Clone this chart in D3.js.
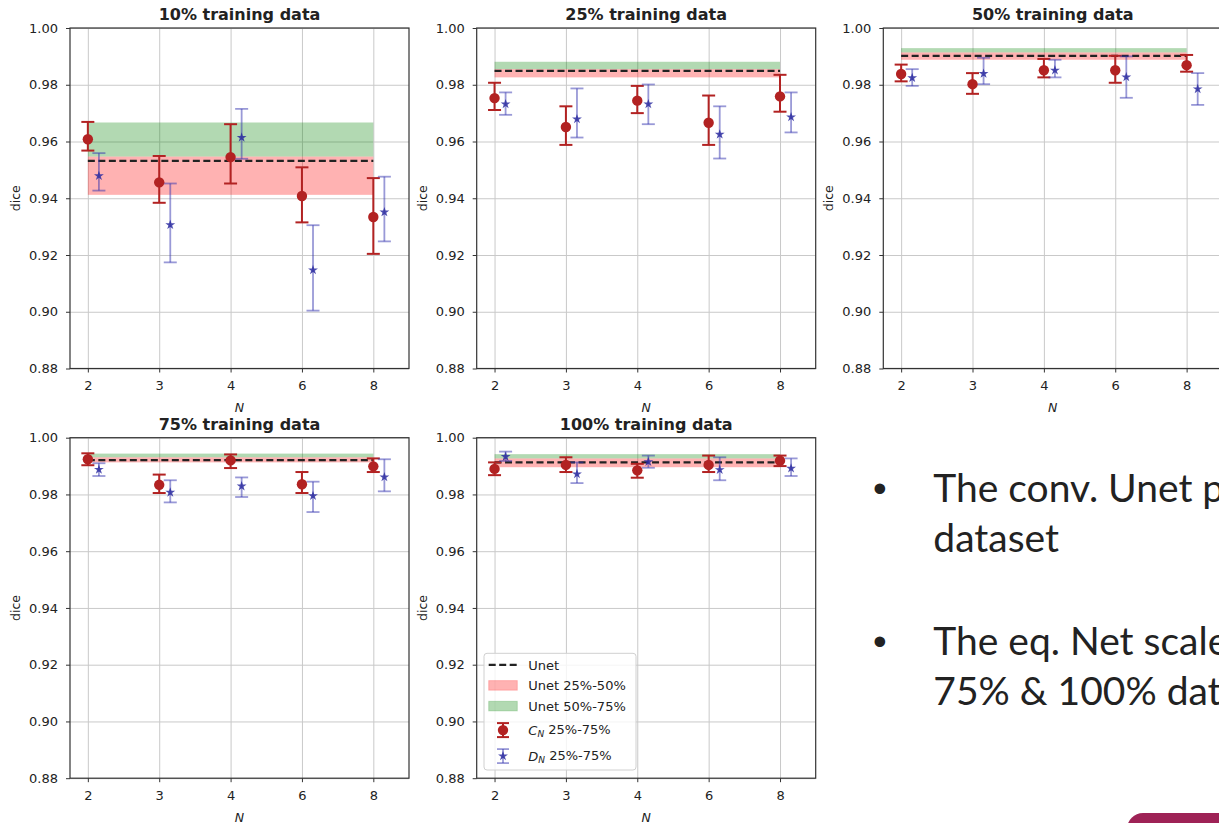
<!DOCTYPE html>
<html>
<head>
<meta charset="utf-8">
<script src="https://cdn.jsdelivr.net/npm/d3@7"></script>
<style>
  body { margin: 0; background: #fff; overflow: hidden; }
  svg text { font-family: "DejaVu Sans", sans-serif; fill: #222; }
</style>
</head>
<body>
<script>
// x categories and panel titles
var Ns = ["2", "3", "4", "6", "8"];
var titles = ["10% training data", "25% training data", "50% training data",
              "75% training data", "100% training data"];
var yTicks = [0.88, 0.90, 0.92, 0.94, 0.96, 0.98, 1.00];

// Unet reference (one value per panel)
var unetLine = [0.9532, 0.9849, 0.9902, 0.9921, 0.9913];
var unetQ25  = [0.9412, 0.9826, 0.9888, 0.9913, 0.9896];
var unetQ50  = [0.9547, 0.9855, 0.9914, 0.9931, 0.9927];
var unetQ75  = [0.9667, 0.9881, 0.9929, 0.9944, 0.9942];

// C_N : median, 25%, 75% (rows = panels, cols = N)
var cMed = [[0.9608, 0.9456, 0.9545, 0.9408, 0.9334],
            [0.9753, 0.9651, 0.9744, 0.9666, 0.9759],
            [0.9838, 0.9802, 0.9851, 0.9851, 0.9869],
            [0.9924, 0.9834, 0.9920, 0.9836, 0.9899],
            [0.9890, 0.9904, 0.9885, 0.9904, 0.9919]];
var cLo  = [[0.9568, 0.9384, 0.9452, 0.9315, 0.9204],
            [0.9711, 0.9588, 0.9700, 0.9588, 0.9705],
            [0.9812, 0.9768, 0.9826, 0.9807, 0.9846],
            [0.9903, 0.9805, 0.9893, 0.9805, 0.9879],
            [0.9868, 0.9879, 0.9859, 0.9879, 0.9900]];
var cHi  = [[0.9669, 0.9549, 0.9661, 0.9509, 0.9471],
            [0.9807, 0.9724, 0.9796, 0.9762, 0.9835],
            [0.9871, 0.9841, 0.9891, 0.9902, 0.9905],
            [0.9945, 0.9870, 0.9941, 0.9879, 0.9927],
            [0.9913, 0.9931, 0.9908, 0.9937, 0.9937]];

// D_N : median, 25%, 75%
var dMed = [[0.9479, 0.9306, 0.9614, 0.9147, 0.9351],
            [0.9732, 0.9679, 0.9732, 0.9625, 0.9686],
            [0.9824, 0.9839, 0.9851, 0.9827, 0.9785],
            [0.9888, 0.9807, 0.9829, 0.9795, 0.9861],
            [0.9933, 0.9872, 0.9915, 0.9887, 0.9892]];
var dLo  = [[0.9427, 0.9174, 0.9539, 0.9004, 0.9248],
            [0.9694, 0.9614, 0.9661, 0.9540, 0.9632],
            [0.9796, 0.9802, 0.9826, 0.9754, 0.9729],
            [0.9865, 0.9772, 0.9791, 0.9738, 0.9811],
            [0.9918, 0.9840, 0.9894, 0.9850, 0.9865]];
var dHi  = [[0.9559, 0.9452, 0.9715, 0.9305, 0.9476],
            [0.9773, 0.9787, 0.9801, 0.9724, 0.9773],
            [0.9855, 0.9895, 0.9888, 0.9900, 0.9841],
            [0.9910, 0.9850, 0.9860, 0.9845, 0.9924],
            [0.9951, 0.9913, 0.9937, 0.9931, 0.9927]];

var bullets = [["The conv. Unet p", "dataset"], ["The eq. Net scale", "75% & 100% data"]];

var svgWidth = 1219;
var svgHeight = 823;

var red = "#b22222";
var blue = "#3333b0";
var dOffset = 0.155;   // D_N drawn a bit right of each N
var cap = 6.5;

var svg = d3.select("body")
  .append("svg")
  .attr("width", svgWidth)
  .attr("height", svgHeight);

var width = 339;
var height = 340.5;
var panelLeft = [70, 476.7, 883.3];
var panelTop = [28, 437.7];

titles.forEach(function(title, p) {
  var col = p % 3, row = Math.floor(p / 3);
  var g = svg.append("g")
    .attr("transform", `translate(${panelLeft[col]}, ${panelTop[row]})`);

  var x = d3.scaleLinear().domain([-0.25, 4.5]).range([0, width]);
  var y = d3.scaleLinear().domain([0.88, 1.0]).range([height, 0]);

  // grid
  g.append("g")
    .attr("transform", `translate(0, ${height})`)
    .call(d3.axisBottom(x).tickValues(d3.range(Ns.length)).tickSize(-height).tickFormat(""))
    .call(s => s.select(".domain").remove())
    .selectAll("line").attr("stroke", "#c9c9c9").attr("stroke-width", 1);
  g.append("g")
    .call(d3.axisLeft(y).tickValues(yTicks).tickSize(-width).tickFormat(""))
    .call(s => s.select(".domain").remove())
    .selectAll("line").attr("stroke", "#c9c9c9").attr("stroke-width", 1);

  // Unet bands
  g.append("rect")
    .attr("x", x(0)).attr("width", x(4) - x(0))
    .attr("y", y(unetQ50[p])).attr("height", y(unetQ25[p]) - y(unetQ50[p]))
    .attr("fill", "#ff0000").attr("fill-opacity", 0.3);
  g.append("rect")
    .attr("x", x(0)).attr("width", x(4) - x(0))
    .attr("y", y(unetQ75[p])).attr("height", y(unetQ50[p]) - y(unetQ75[p]))
    .attr("fill", "#008000").attr("fill-opacity", 0.3);
  g.append("line")
    .attr("x1", x(0)).attr("x2", x(4))
    .attr("y1", y(unetLine[p])).attr("y2", y(unetLine[p]))
    .attr("stroke", "#222").attr("stroke-width", 2.2)
    .attr("stroke-dasharray", "7,3.5");

  // error bars
  function errorbars(lo, hi, off, color, opacity, sw) {
    var eb = g.append("g").attr("stroke", color).attr("stroke-opacity", opacity)
      .attr("stroke-width", sw);
    Ns.forEach(function(n, i) {
      var cx = x(i + off);
      eb.append("line").attr("x1", cx).attr("x2", cx).attr("y1", y(lo[p][i])).attr("y2", y(hi[p][i]));
      eb.append("line").attr("x1", cx - cap).attr("x2", cx + cap).attr("y1", y(lo[p][i])).attr("y2", y(lo[p][i]));
      eb.append("line").attr("x1", cx - cap).attr("x2", cx + cap).attr("y1", y(hi[p][i])).attr("y2", y(hi[p][i]));
    });
  }
  errorbars(cLo, cHi, 0, red, 1, 2);
  errorbars(dLo, dHi, dOffset, blue, 0.5, 1.8);

  g.selectAll("circle.c")
    .data(cMed[p])
    .enter()
    .append("circle")
    .attr("cx", (d, i) => x(i))
    .attr("cy", d => y(d))
    .attr("r", 5.2)
    .attr("fill", red);

  var star = d3.symbol().type(d3.symbolStar).size(30);
  g.selectAll("path.d")
    .data(dMed[p])
    .enter()
    .append("path")
    .attr("d", star)
    .attr("transform", (d, i) => `translate(${x(i + dOffset)}, ${y(d)})`)
    .attr("fill", "#2b2ba0")
    .attr("fill-opacity", 0.85);

  // axes
  var xAxis = g.append("g")
    .attr("transform", `translate(0, ${height})`)
    .call(d3.axisBottom(x).tickValues(d3.range(Ns.length)).tickFormat(i => Ns[i])
      .tickSize(4).tickPadding(8.5));
  var yAxis = g.append("g")
    .call(d3.axisLeft(y).tickValues(yTicks).tickFormat(d3.format(".2f"))
      .tickSize(4).tickPadding(8));
  [xAxis, yAxis].forEach(function(a) {
    a.select(".domain").remove();
    a.selectAll("line").attr("stroke", "#333");
    a.selectAll("text").attr("font-size", 13).attr("font-family", "DejaVu Sans").attr("fill", "#222");
  });

  // frame
  g.append("rect")
    .attr("width", width).attr("height", height)
    .attr("fill", "none").attr("stroke", "#333").attr("stroke-width", 1.2);

  // labels
  g.append("text")
    .attr("x", width / 2).attr("y", -8)
    .attr("text-anchor", "middle")
    .attr("font-size", 16).attr("font-weight", "bold")
    .attr("fill", "#111")
    .text(title);
  g.append("text")
    .attr("x", width / 2).attr("y", height + 43.5)
    .attr("text-anchor", "middle")
    .attr("font-size", 12.5).attr("font-style", "italic")
    .text("N");
  g.append("text")
    .attr("transform", "rotate(-90)")
    .attr("x", -height / 2).attr("y", -50)
    .attr("text-anchor", "middle")
    .attr("font-size", 12.5)
    .text("dice");

  // legend in the last panel
  if (p === 4) {
    var lg = g.append("g").attr("transform", "translate(7.3, 215.6)");
    lg.append("rect")
      .attr("width", 152).attr("height", 116.7).attr("rx", 3)
      .attr("fill", "#fff").attr("fill-opacity", 0.8)
      .attr("stroke", "#d0d0d0");
    var rows = [11.6, 32.1, 52.8, 76.8, 102.8];
    lg.append("line").attr("x1", 4.7).attr("x2", 33.3).attr("y1", rows[0]).attr("y2", rows[0])
      .attr("stroke", "#222").attr("stroke-width", 2.2).attr("stroke-dasharray", "7,3.5");
    lg.append("rect").attr("x", 4.7).attr("y", rows[1] - 4.8).attr("width", 28.6).attr("height", 9.6)
      .attr("fill", "#ff0000").attr("fill-opacity", 0.3).attr("stroke", "#ff0000").attr("stroke-opacity", 0.2);
    lg.append("rect").attr("x", 4.7).attr("y", rows[2] - 4.8).attr("width", 28.6).attr("height", 9.6)
      .attr("fill", "#008000").attr("fill-opacity", 0.3).attr("stroke", "#008000").attr("stroke-opacity", 0.2);
    [[rows[3], red, 1, 2], [rows[4], blue, 0.5, 1.8]].forEach(function(r) {
      var e = lg.append("g").attr("stroke", r[1]).attr("stroke-opacity", r[2]).attr("stroke-width", r[3]);
      e.append("line").attr("x1", 19).attr("x2", 19).attr("y1", r[0] - 7).attr("y2", r[0] + 7);
      e.append("line").attr("x1", 13).attr("x2", 25).attr("y1", r[0] - 7).attr("y2", r[0] - 7);
      e.append("line").attr("x1", 13).attr("x2", 25).attr("y1", r[0] + 7).attr("y2", r[0] + 7);
    });
    lg.append("circle").attr("cx", 19).attr("cy", rows[3]).attr("r", 5.2).attr("fill", red);
    lg.append("path").attr("d", star).attr("transform", `translate(19, ${rows[4]})`)
      .attr("fill", "#2b2ba0").attr("fill-opacity", 0.85);
    var labels = [["Unet"], ["Unet 25%-50%"], ["Unet 50%-75%"], ["C", "N", " 25%-75%"], ["D", "N", " 25%-75%"]];
    labels.forEach(function(l, i) {
      var t = lg.append("text").attr("x", 44.3).attr("y", rows[i]).attr("dy", "0.36em")
        .attr("font-size", 13);
      if (l.length === 1) { t.text(l[0]); return; }
      t.append("tspan").attr("font-style", "italic").text(l[0]);
      t.append("tspan").attr("font-style", "italic").attr("font-size", 9).attr("dy", "0.25em").text(l[1]);
      t.append("tspan").attr("dy", "-0.25em").text(l[2]);
    });
  }
});

// slide text on the right
var tx = svg.append("g").attr("font-family", "Lato, sans-serif");
var bulletY = [501.7, 655];
bullets.forEach(function(b, i) {
  tx.append("text").attr("x", 873).attr("y", bulletY[i])
    .attr("font-size", 39).attr("fill", "#000").style("font-family", "Liberation Sans").text("\u2022");
  b.forEach(function(line, j) {
    tx.append("text").attr("x", 933.3).attr("y", bulletY[i] + j * 50)
      .attr("font-size", 39).attr("fill", "#000").style("font-family", "Lato").text(line);
  });
});

// slide footer shape
svg.append("rect")
  .attr("x", 1127).attr("y", 813).attr("width", 150).attr("height", 40).attr("rx", 16)
  .attr("fill", "#9e2256");
</script>
</body>
</html>
